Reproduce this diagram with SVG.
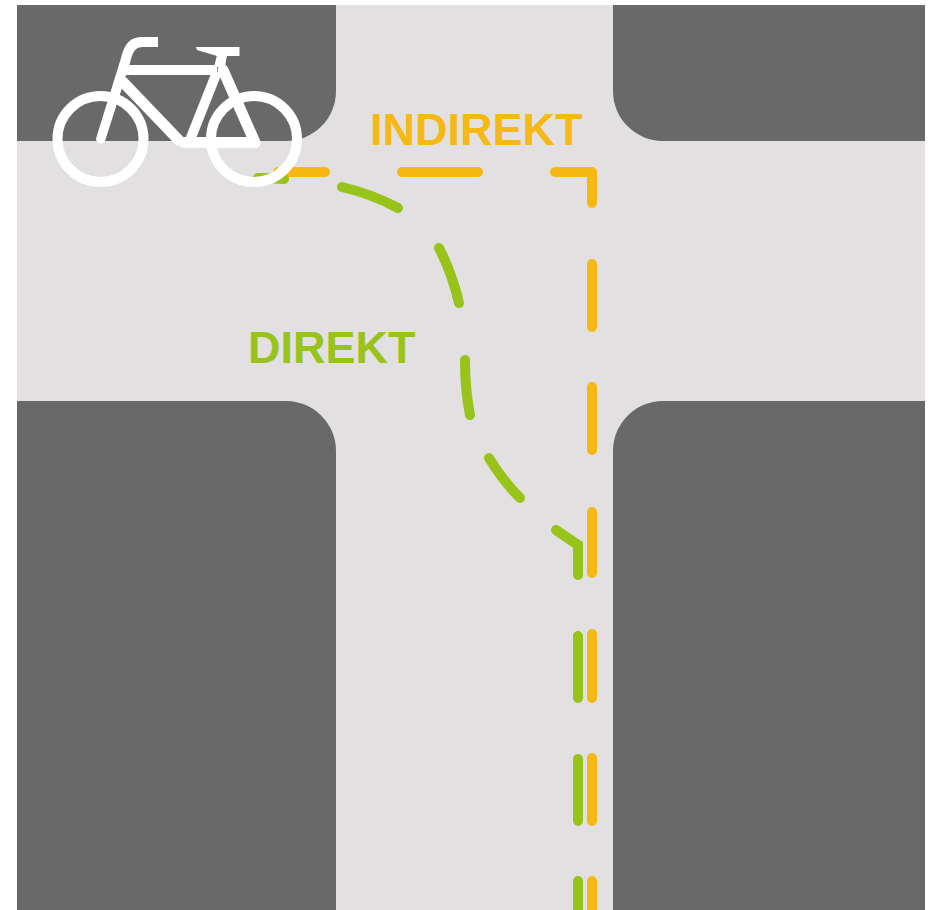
<svg xmlns="http://www.w3.org/2000/svg" width="937" height="910" viewBox="0 0 937 910">
  <style>
    .block { fill: #696969; }
    .or { fill: none; stroke: #f5b814; stroke-width: 10; stroke-linecap: round; stroke-linejoin: round; }
    .gr { fill: none; stroke: #97c31a; stroke-width: 10; stroke-linecap: round; stroke-linejoin: miter; }
    .bk { fill: none; stroke: #ffffff; stroke-linejoin: round; }
    .w10 { stroke-width: 10; }
    .w11 { stroke-width: 11; }
    text { font-family: "Liberation Sans", Arial, sans-serif; font-weight: 700; font-size: 45px; }
  </style>
  <rect width="937" height="910" fill="#ffffff"/>
  <g id="road">
    <rect x="17" y="5" width="908" height="905" fill="#e2e0e1"/>
    <path class="block" d="M17 5H336V91A50 50 0 0 1 286 141H17Z"/>
    <path class="block" d="M613 5H925V141H663A50 50 0 0 1 613 91Z"/>
    <path class="block" d="M17 401H286A50 50 0 0 1 336 451V910H17Z"/>
    <path class="block" d="M663 401H925V910H613V451A50 50 0 0 1 663 401Z"/>
  </g>
  <g id="route-indirekt">
    <path class="or" d="M278 172H325M402 172H478M555 172H592V203M592 264V327M592 387V450M592 512V573M592 634V698M592 758V821M592 881V910"/>
    <text x="370" y="145" fill="#f5b814">INDIREKT</text>
  </g>
  <g id="route-direkt">
    <path class="gr" d="M258 178Q270 178 284 179M342 187Q372 194 398 208M439 248Q452 273 459 303M465 360Q465 390 470 415M489 458Q503 481 520 498M556 530L578 545V575M578 636V698M578 759V821M578 881V910"/>
    <text x="248" y="363" fill="#97c31a">DIREKT</text>
  </g>
  <g id="bicycle">
    <circle class="bk w10" cx="100.500" cy="139" r="43"/>
    <circle class="bk w10" cx="254" cy="139" r="43"/>
    <path d="M158 37H143C130 37 125 43 121 58L96.500 137A4.500 4.500 0 0 0 105 141L130 63C133 50 136 47 143 47H158Z" fill="#ffffff"/>
    <path class="bk w10" d="M125 70H217"/>
    <path class="bk w11" d="M122 81L181 142.500"/>
    <path class="bk w10" d="M217 72L190 140"/>
    <path class="bk w11" d="M184 142.500H255L223 70" stroke-linecap="round"/>
    <path d="M196 47H239.500V56H217L197 50Z" fill="#ffffff"/>
    <path d="M217 55H227L225 67H214Z" fill="#ffffff"/>
  </g>
</svg>
